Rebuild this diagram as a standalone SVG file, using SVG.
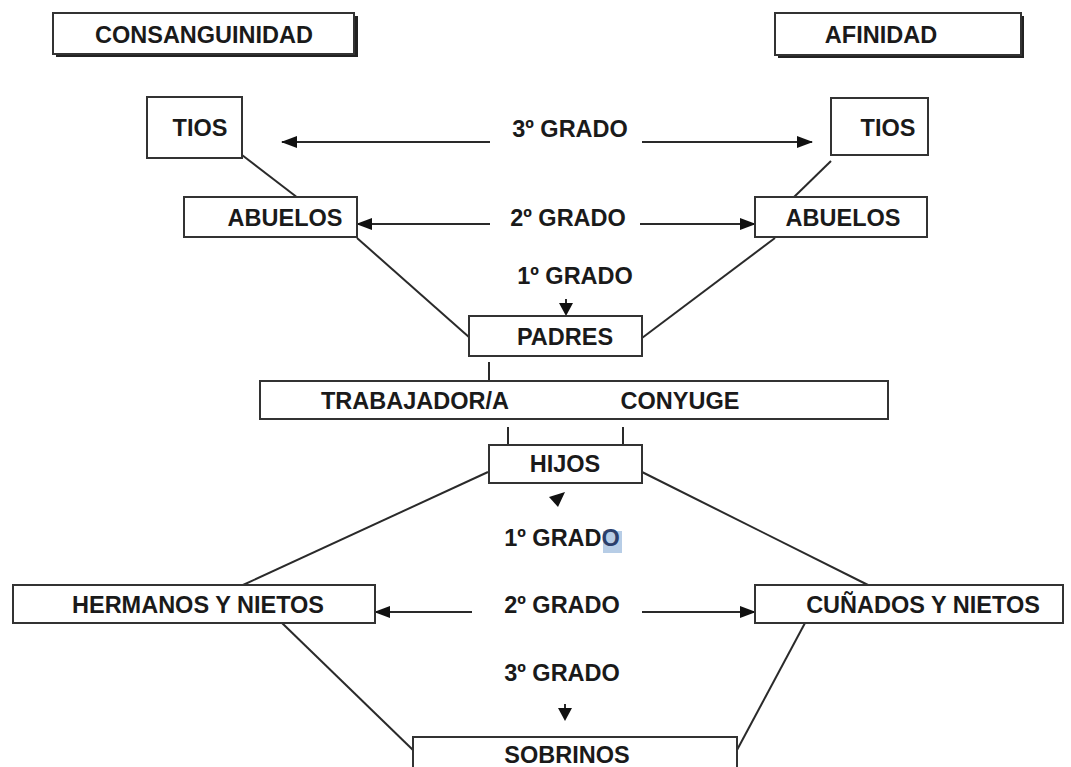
<svg xmlns="http://www.w3.org/2000/svg" width="1071" height="767" viewBox="0 0 1071 767">
<style>
.box{fill:#fff;stroke:#333;stroke-width:2}
.shadow{fill:#222}
.t{font-family:"Liberation Sans",Arial,sans-serif;font-weight:bold;font-size:23.5px;fill:#1a1a1a;text-anchor:middle}
.ln{stroke:#2a2a2a;stroke-width:2;fill:none}
.ah{fill:#111}
</style>
<defs>
<marker id="arr" viewBox="0 0 16 12" refX="15" refY="6" markerWidth="16" markerHeight="12" markerUnits="userSpaceOnUse" orient="auto">
<path d="M0,0 L16,6 L0,12 Z" class="ah"/>
</marker>
</defs>
<rect width="1071" height="767" fill="#fff"/>

<g id="consanguinidad">
<rect class="shadow" x="56" y="16" width="302" height="41"/>
<rect class="box" x="53" y="13" width="301" height="41"/>
<text class="t" x="204" y="43">CONSANGUINIDAD</text>
</g>
<g id="afinidad">
<rect class="shadow" x="778" y="16" width="246" height="42"/>
<rect class="box" x="775" y="13" width="246" height="42"/>
<text class="t" x="881" y="43">AFINIDAD</text>
</g>

<g id="connectors">
<line class="ln" x1="242" y1="155" x2="298" y2="198"/>
<line class="ln" x1="831" y1="161" x2="793" y2="198"/>
<line class="ln" x1="357" y1="238" x2="470" y2="338"/>
<line class="ln" x1="775" y1="238" x2="642" y2="338"/>
<line class="ln" x1="489" y1="362" x2="489" y2="381"/>
<line class="ln" x1="508" y1="427" x2="508" y2="445"/>
<line class="ln" x1="623" y1="427" x2="623" y2="445"/>
<line class="ln" x1="488" y1="472" x2="243" y2="585"/>
<line class="ln" x1="642" y1="472" x2="868" y2="585"/>
<line class="ln" x1="282" y1="623" x2="413" y2="750"/>
<line class="ln" x1="805" y1="623" x2="737" y2="750"/>
<line class="ln" x1="490" y1="142" x2="282" y2="142" marker-end="url(#arr)"/>
<line class="ln" x1="642" y1="142" x2="812" y2="142" marker-end="url(#arr)"/>
<line class="ln" x1="490" y1="224" x2="357" y2="224" marker-end="url(#arr)"/>
<line class="ln" x1="640" y1="224" x2="755" y2="224" marker-end="url(#arr)"/>
<line class="ln" x1="472" y1="612" x2="375" y2="612" marker-end="url(#arr)"/>
<line class="ln" x1="642" y1="612" x2="755" y2="612" marker-end="url(#arr)"/>
<line class="ln" x1="566" y1="299" x2="566" y2="305"/>
<polygon class="ah" points="559,303 573,303 566,316"/>
<polygon class="ah" points="549,497 565,492 558,507"/>
<line class="ln" x1="565" y1="704" x2="565" y2="709"/>
<polygon class="ah" points="558,708 572,708 565,721"/>
</g>

<g id="tios-c">
<rect class="box" x="147" y="97" width="95" height="61"/>
<text class="t" x="200" y="136">TIOS</text>
</g>
<g id="tios-a">
<rect class="box" x="831" y="98" width="97" height="57"/>
<text class="t" x="888" y="136">TIOS</text>
</g>
<g id="abuelos-c">
<rect class="box" x="184" y="197" width="173" height="40"/>
<text class="t" x="285" y="226">ABUELOS</text>
</g>
<g id="abuelos-a">
<rect class="box" x="755" y="197" width="172" height="40"/>
<text class="t" x="843" y="226">ABUELOS</text>
</g>
<g id="grado3-top"><text class="t" x="570" y="137">3º GRADO</text></g>
<g id="grado2-top"><text class="t" x="568" y="226">2º GRADO</text></g>
<g id="grado1-top"><text class="t" x="575" y="284">1º GRADO</text></g>
<g id="padres">
<rect class="box" x="469" y="316" width="173" height="40"/>
<text class="t" x="565" y="345">PADRES</text>
</g>
<g id="trabajador">
<rect class="box" x="260" y="381" width="628" height="38"/>
<text class="t" x="415" y="409">TRABAJADOR/A</text>
<text class="t" x="680" y="409">CONYUGE</text>
</g>
<g id="hijos">
<rect class="box" x="489" y="445" width="153" height="38"/>
<text class="t" x="565" y="472">HIJOS</text>
</g>
<g id="grado1-bot">
<rect x="603" y="531" width="19" height="22" fill="#b7cde6"/>
<text class="t" x="562" y="546">1º GRAD<tspan fill="#2b3f6b">O</tspan></text>
</g>
<g id="grado2-bot"><text class="t" x="562" y="613">2º GRADO</text></g>
<g id="grado3-bot"><text class="t" x="562" y="681">3º GRADO</text></g>
<g id="hermanos">
<rect class="box" x="13" y="585" width="362" height="38"/>
<text class="t" x="198" y="613">HERMANOS Y NIETOS</text>
</g>
<g id="cunados">
<rect class="box" x="755" y="585" width="308" height="38"/>
<text class="t" x="923" y="613">CUÑADOS Y NIETOS</text>
</g>
<g id="sobrinos">
<rect class="box" x="413" y="737" width="324" height="40"/>
<text class="t" x="567" y="763">SOBRINOS</text>
</g>
</svg>
